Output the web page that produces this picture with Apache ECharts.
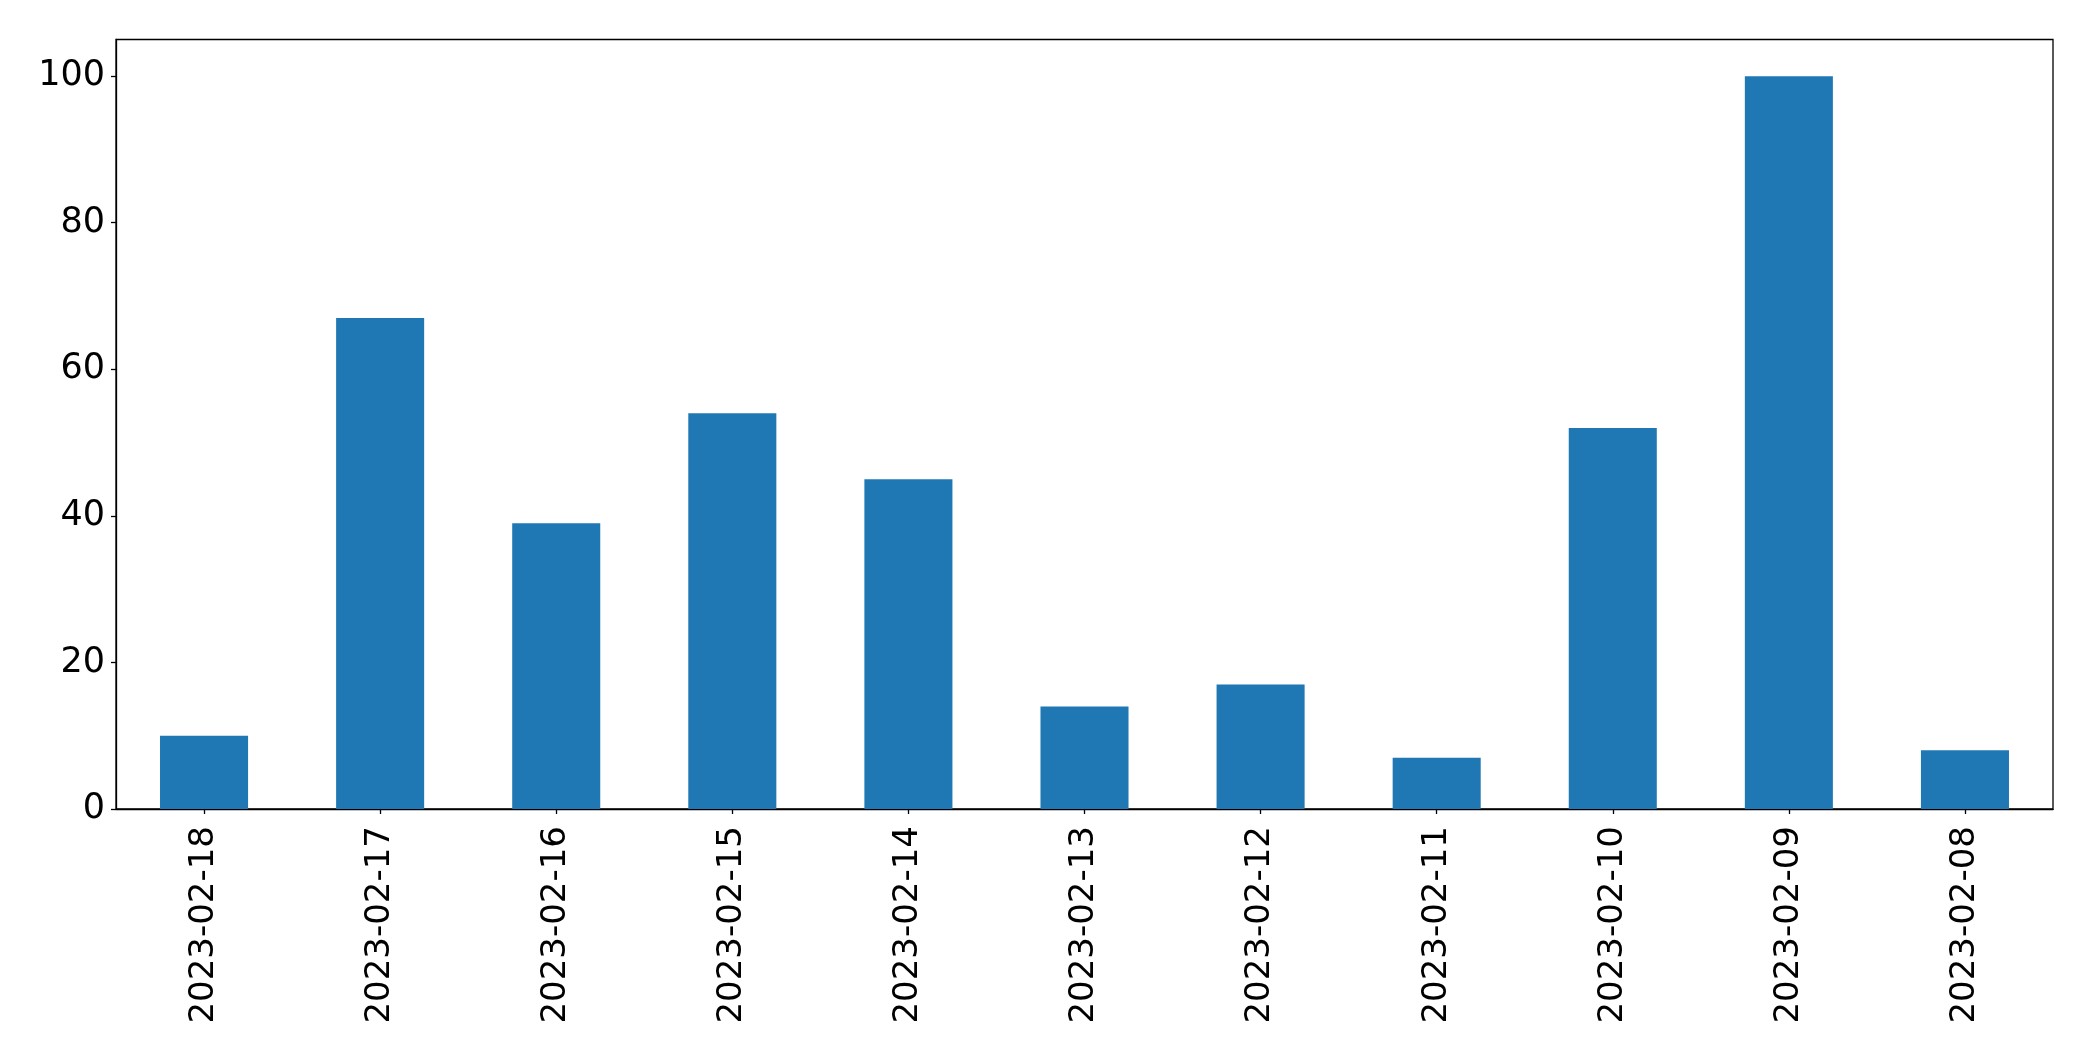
<!DOCTYPE html>
<html>
<head>
<meta charset="utf-8">
<script src="https://cdn.jsdelivr.net/npm/echarts@6/dist/echarts.min.js"></script>
<style>
html,body{margin:0;padding:0;background:#fff;}
#chart{width:2093px;height:1061px;}
</style>
</head>
<body>
<div id="chart"></div>
<script>
const categories = ['2023-02-18','2023-02-17','2023-02-16','2023-02-15','2023-02-14','2023-02-13','2023-02-12','2023-02-11','2023-02-10','2023-02-09','2023-02-08'];
const values = [10, 67, 39, 54, 45, 14, 17, 7, 52, 100, 8];
const yTicks = [0, 20, 40, 60, 80, 100];

const chart = echarts.init(document.getElementById('chart'), null, {renderer: 'canvas'});
const font = 'DejaVu Sans';
chart.setOption({
  animation: false,
  backgroundColor: '#ffffff',
  grid: {
    left: 116, right: 40, top: 39.5, bottom: 252,
    containLabel: false,
    show: true, borderColor: '#000', borderWidth: 1.3, backgroundColor: 'transparent'
  },
  xAxis: {
    type: 'category',
    data: categories,
    boundaryGap: true,
    axisLine: {show: true, lineStyle: {color: '#000', width: 1.3}},
    axisTick: {show: true, alignWithLabel: true, length: 5, lineStyle: {color: '#000', width: 1.3}},
    axisLabel: {rotate: 90, margin: 17, color: '#000', fontSize: 34, fontFamily: font, interval: 0},
    splitLine: {show: false}
  },
  yAxis: {
    type: 'value',
    min: 0, max: 105, interval: 20,
    axisLine: {show: true, lineStyle: {color: '#000', width: 1.3}},
    axisTick: {show: true, length: 5, lineStyle: {color: '#000', width: 1.3}},
    axisLabel: {
      margin: 11, color: '#000', fontSize: 35, fontFamily: font,
      showMaxLabel: false,
      formatter: function (v) { return yTicks.indexOf(v) >= 0 ? String(v) : ''; }
    },
    splitLine: {show: false}
  },
  series: [{
    type: 'bar',
    data: values,
    barWidth: '50%',
    itemStyle: {color: '#1f77b4'}
  }]
});
</script>
</body>
</html>
